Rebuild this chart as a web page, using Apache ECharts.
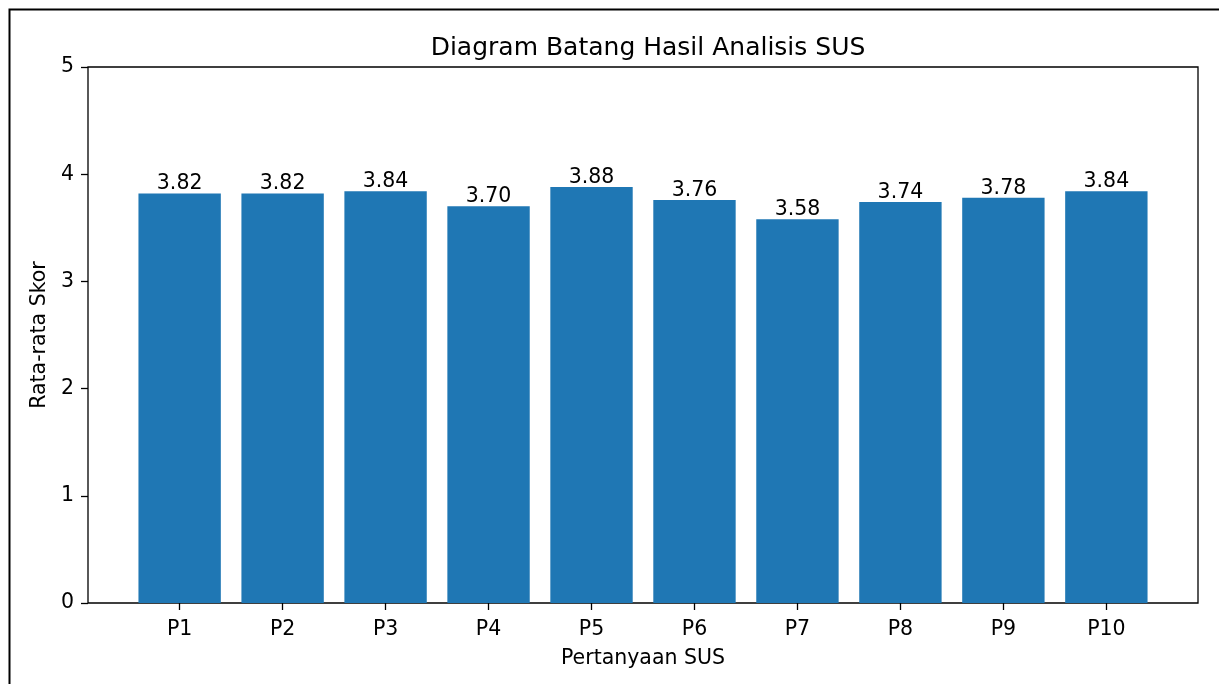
<!DOCTYPE html>
<html>
<head>
<meta charset="utf-8">
<script src="https://cdn.jsdelivr.net/npm/echarts@6/dist/echarts.min.js"></script>
<style>
  html, body { margin: 0; padding: 0; background: #fff; }
  #chart { width: 1219px; height: 684px; }
</style>
</head>
<body>
<div id="chart"></div>
<script>
const categories = ['P1', 'P2', 'P3', 'P4', 'P5', 'P6', 'P7', 'P8', 'P9', 'P10'];
const scores = [3.82, 3.82, 3.84, 3.70, 3.88, 3.76, 3.58, 3.74, 3.78, 3.84];
const yTicks = [0, 1, 2, 3, 4, 5];

const chart = echarts.init(document.getElementById('chart'), null, { renderer: 'canvas' });
const FONT = 'DejaVu Sans';
const frame = { left: 88, top: 67, width: 1110, height: 536 };
// matplotlib x-limits: -0.89 .. 9.89 ; categories occupy -0.5 .. 9.5
const unit = frame.width / 10.78;
const inner = { left: frame.left + 0.39 * unit, top: frame.top, width: 10 * unit, height: frame.height };

chart.setOption({
  backgroundColor: '#ffffff',
  animation: false,
  textStyle: { fontFamily: FONT, color: '#000' },
  title: {
    text: 'Diagram Batang Hasil Analisis SUS',
    left: frame.left + frame.width / 2,
    textAlign: 'center',
    top: 31,
    textStyle: { fontFamily: FONT, fontSize: 25, fontWeight: 'normal', color: '#000' }
  },
  graphic: [{
    type: 'rect',
    shape: { x: 9.5, y: 9.5, width: 1400, height: 900 },
    style: { fill: null, stroke: '#000', lineWidth: 2 },
    silent: true
  }],
  grid: [
    { left: frame.left, top: frame.top, width: frame.width, height: frame.height,
      show: true, borderColor: '#000', borderWidth: 1.3, backgroundColor: 'transparent' },
    { left: inner.left, top: inner.top, width: inner.width, height: inner.height }
  ],
  xAxis: [
    { gridIndex: 0, type: 'value', min: 0, max: 1, show: false },
    { gridIndex: 1, type: 'category', data: categories, boundaryGap: true,
      axisLine: { show: false },
      axisTick: { show: true, alignWithLabel: true, length: 7, lineStyle: { color: '#000', width: 1.3 } },
      axisLabel: { color: '#000', fontFamily: FONT, fontSize: 20.5, margin: 16 },
      splitLine: { show: false },
      name: 'Pertanyaan SUS', nameLocation: 'middle', nameGap: 45,
      nameTextStyle: { color: '#000', fontFamily: FONT, fontSize: 20.5 } }
  ],
  yAxis: [
    { gridIndex: 0, type: 'value', min: yTicks[0], max: yTicks[yTicks.length - 1], interval: 1,
      axisLine: { show: false },
      axisTick: { show: true, length: 7, lineStyle: { color: '#000', width: 1.3 } },
      axisLabel: { color: '#000', fontFamily: FONT, fontSize: 20.5, margin: 14,
        formatter: v => yTicks.includes(v) ? String(v) : '' },
      splitLine: { show: false },
      name: 'Rata-rata Skor', nameLocation: 'middle', nameGap: 33,
      nameTextStyle: { color: '#000', fontFamily: FONT, fontSize: 20.5 } },
    { gridIndex: 1, type: 'value', min: yTicks[0], max: yTicks[yTicks.length - 1], interval: 1, show: false,
      splitLine: { show: false } }
  ],
  series: [{
    type: 'bar',
    xAxisIndex: 1,
    yAxisIndex: 1,
    data: scores,
    barWidth: '80%',
    itemStyle: { color: '#1f77b4' },
    label: {
      show: true, position: 'top', distance: -1,
      formatter: p => p.value.toFixed(2),
      color: '#000', fontFamily: FONT, fontSize: 20.5
    }
  }]
});
</script>
</body>
</html>
